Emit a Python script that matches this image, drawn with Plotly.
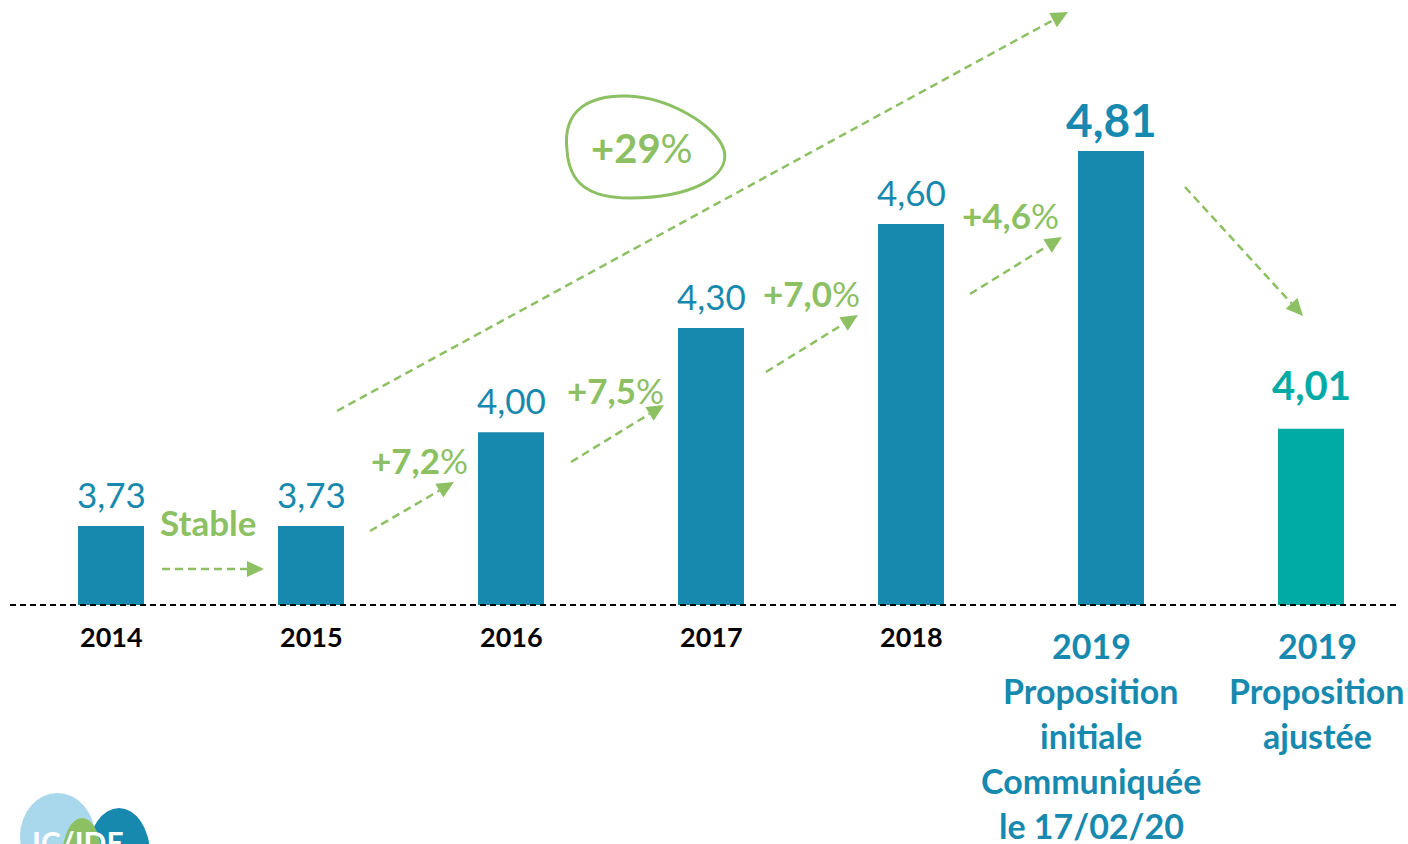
import plotly.graph_objects as go

# data
categories = ["2014", "2015", "2016", "2017", "2018", "2019 initiale", "2019 ajustée"]
values = [3.73, 3.73, 4.00, 4.30, 4.60, 4.81, 4.01]
value_labels = ["3,73", "3,73", "4,00", "4,30", "4,60", "4,81", "4,01"]
tick_lines = [
    ["2014"], ["2015"], ["2016"], ["2017"], ["2018"],
    ["2019", "Proposition", "initiale", "Communiquée", "le 17/02/20"],
    ["2019", "Proposition", "ajustée"],
]
growth_labels = ["Stable", "+7,2", "+7,5", "+7,0", "+4,6"]
total_growth = "+29"

W, H = 1408, 844
BOTTOM = 239
PLOT_H = H - BOTTOM
BLUE = "#1789ae"
TEAL = "#00aaa5"
GREEN = "#8cc063"


def px(x, y):
    # pixel -> paper coords
    return x / W, (PLOT_H - y) / PLOT_H


bar_colors = [BLUE] * 6 + [TEAL]

fig = go.Figure()
fig.add_bar(x=list(range(len(categories))), y=values, marker=dict(color=bar_colors, line=dict(width=0)),
            width=0.33, hoverinfo="skip", customdata=categories)

shapes = []
annotations = []

# dashed baseline
x0, _ = px(10, 605)
x1, _ = px(1400, 605)
shapes.append(dict(type="line", xref="paper", yref="paper", x0=x0, x1=x1, y0=0, y1=0,
                   line=dict(color="black", width=2, dash="6px,4px")))


def arrow(tail, head, head_len=17, half_w=8):
    tx, ty = tail
    hx, hy = head
    dx, dy = hx - tx, hy - ty
    n = (dx ** 2 + dy ** 2) ** 0.5
    ux, uy = dx / n, dy / n
    bx, by = hx - head_len * ux, hy - head_len * uy
    a, b = px(tx, ty)
    c, d = px(bx, by)
    shapes.append(dict(type="line", xref="paper", yref="paper", x0=a, y0=b, x1=c, y1=d,
                       line=dict(color=GREEN, width=2.5, dash="8px,5px")))
    p1 = px(hx, hy)
    p2 = px(bx - half_w * uy, by + half_w * ux)
    p3 = px(bx + half_w * uy, by - half_w * ux)
    path = f"M {p1[0]} {p1[1]} L {p2[0]} {p2[1]} L {p3[0]} {p3[1]} Z"
    shapes.append(dict(type="path", xref="paper", yref="paper", path=path,
                       fillcolor=GREEN, line=dict(width=0)))


arrow((162, 569), (264, 569))
arrow((370, 531), (454, 482))
arrow((571, 462), (664, 405))
arrow((766, 372), (858, 315))
arrow((970, 294), (1062, 237))
arrow((337, 411), (1068, 12))
arrow((1185, 187), (1303, 316))

# egg-shaped outline around +29%
egg_px = [(567, 150), (562, 108), (592, 95), (627, 96), (668, 97), (716, 125), (724, 150),
          (731, 177), (690, 198), (630, 198), (588, 198), (569, 183), (567, 150)]
eg = [px(x, y) for x, y in egg_px]
path = f"M {eg[0][0]} {eg[0][1]}"
for i in range(1, len(eg), 3):
    path += f" C {eg[i][0]} {eg[i][1]} {eg[i+1][0]} {eg[i+1][1]} {eg[i+2][0]} {eg[i+2][1]}"
path += " Z"
shapes.append(dict(type="path", xref="paper", yref="paper", path=path,
                   line=dict(color=GREEN, width=3)))

# value labels
for i, (v, lab) in enumerate(zip(values, value_labels)):
    if i == 5:
        font = dict(family="Lato", size=46, color=BLUE)
        txt, shift = f"<b>{lab}</b>", 2
    elif i == 6:
        font = dict(family="Lato", size=40, color=TEAL)
        txt, shift = f"<b>{lab}</b>", 18
    else:
        font = dict(family="Lato", size=35, color=BLUE)
        txt, shift = lab, 9
    annotations.append(dict(x=i, y=v, xref="x", yref="y", text=txt, showarrow=False,
                            yanchor="bottom", yshift=shift, font=font))

# tick labels
label_xshift = [0, 0, 0, 0, 0, -20, 6]
for i, lines in enumerate(tick_lines):
    if i < 5:
        annotations.append(dict(x=i, y=0, xref="x", yref="paper", text=f"<b>{lines[0]}</b>",
                                showarrow=False, yanchor="middle", yshift=-31,
                                font=dict(family="Lato", size=27, color="black")))
    else:
        for j, line in enumerate(lines):
            annotations.append(dict(x=i, y=0, xref="x", yref="paper", text=f"<b>{line}</b>",
                                    showarrow=False, yanchor="middle", yshift=-40 - 45 * j,
                                    xshift=label_xshift[i],
                                    font=dict(family="Lato", size=34, color=BLUE)))

# growth labels
growth_pos = [(208, 522), (419, 460), (615, 390), (811, 293), (1010, 215)]
for lab, (x, y) in zip(growth_labels, growth_pos):
    gx, gy = px(x, y)
    txt = f"<b>{lab}</b>" if lab == "Stable" else f"<b>{lab}</b>%"
    annotations.append(dict(x=gx, y=gy, xref="paper", yref="paper", text=txt, showarrow=False,
                            xanchor="center", yanchor="middle",
                            font=dict(family="Lato", size=35, color=GREEN)))
gx, gy = px(642, 148)
annotations.append(dict(x=gx, y=gy, xref="paper", yref="paper", text=f"<b>{total_growth}</b>%",
                        showarrow=False, xanchor="center", yanchor="middle",
                        font=dict(family="Lato", size=40, color=GREEN)))


# partial logo bottom-left
def ellipse(x0, y0, x1, y1, color):
    a, b = px(x0, y0)
    c, d = px(x1, y1)
    shapes.append(dict(type="circle", xref="paper", yref="paper", x0=a, y0=b, x1=c, y1=d,
                       fillcolor=color, line=dict(width=0)))


ellipse(20, 793, 95, 880, "#a9d8ec")
ellipse(88, 808, 150, 900, BLUE)
ellipse(62, 818, 102, 900, GREEN)
lx, ly = px(78, 822)
annotations.append(dict(x=lx, y=ly, xref="paper", yref="paper", text="<b>IC/IDE</b>",
                        showarrow=False, xanchor="center", yanchor="top",
                        font=dict(family="Lato", size=30, color="white")))

fig.update_layout(
    width=W, height=H,
    margin=dict(l=0, r=0, t=0, b=BOTTOM),
    plot_bgcolor="white", paper_bgcolor="white",
    showlegend=False,
    shapes=shapes, annotations=annotations,
    xaxis=dict(range=[-0.555, 6.485], showticklabels=False, showgrid=False, zeroline=False,
               showline=False),
    yaxis=dict(range=[3.502, 3.502 + PLOT_H / 347], visible=False),
)

fig.write_html("out.html", config={"displayModeBar": False},
               post_script="document.body.style.margin='0';")
